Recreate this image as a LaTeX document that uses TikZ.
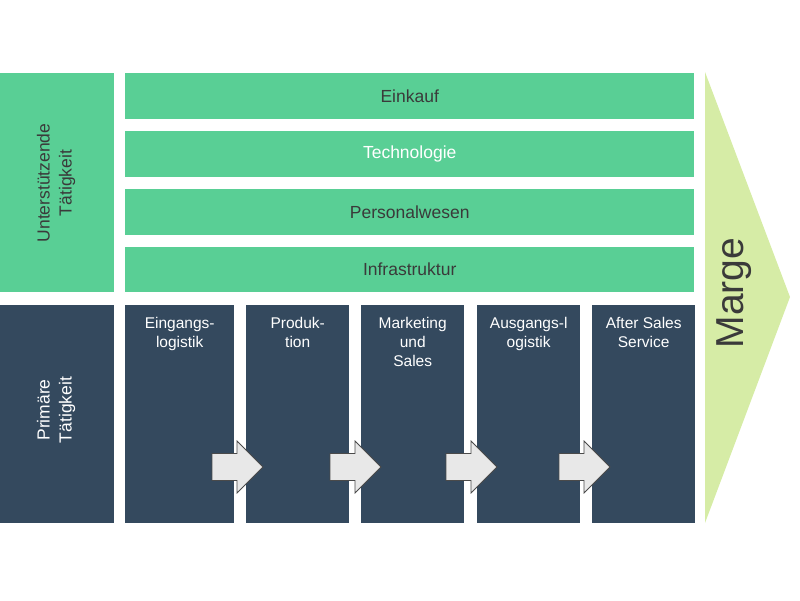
\documentclass[tikz,border=0pt]{standalone}
\usepackage{fontspec}
\setmainfont{Liberation Sans}
\definecolor{supgreen}{HTML}{59CF95}
\definecolor{prinavy}{HTML}{34495E}
\definecolor{margegreen}{HTML}{D6ECA6}
\definecolor{darktext}{HTML}{3A3A3A}
\definecolor{arrowfill}{HTML}{E8E8E8}
\definecolor{arrowline}{HTML}{4A4A4A}
\begin{document}
\begin{tikzpicture}[x=1pt,y=-1pt,
  strip/.style={fill=supgreen,draw=none,anchor=north west,inner sep=0pt,
    font=\fontsize{17.5}{20}\selectfont},
  pribox/.style={fill=prinavy,draw=none,anchor=north west,inner sep=0pt},
  pritext/.style={anchor=north,align=center,text=white,inner sep=0pt,
    font=\fontsize{15.5}{19}\selectfont},
  sidetext/.style={rotate=90,align=center,inner sep=0pt,
    font=\fontsize{17.5}{22}\selectfont},
  flowarrow/.pic={\draw[fill=arrowfill,draw=arrowline,line width=0.8pt,line join=miter]
    (0,-13.5) -- (25,-13.5) -- (25,-26) -- (51,0) -- (25,26) -- (25,13.5) -- (0,13.5) -- cycle;}
]
\useasboundingbox (0,0) rectangle (800,600);
% support side
\node[strip,minimum width=114pt,minimum height=219pt] (sup) at (0,73) {};
\node[sidetext,text=darktext] (suplabel) at (56,183) {Unterstützende\\Tätigkeit};
% strips
\node[strip,minimum width=569pt,minimum height=46pt,text=darktext] (einkauf) at (125,73) {Einkauf};
\node[strip,minimum width=569pt,minimum height=46pt,text=white] (tech) at (125,131) {Technologie};
\node[strip,minimum width=569pt,minimum height=46pt,text=darktext] (personal) at (125,189) {Personalwesen};
\node[strip,minimum width=569pt,minimum height=45pt,text=darktext] (infra) at (125,247) {Infrastruktur};
% primary side
\node[pribox,minimum width=114pt,minimum height=218pt] (pri) at (0,305) {};
\node[sidetext,text=white] (prilabel) at (56,410) {Primäre\\Tätigkeit};
% columns
\node[pribox,minimum width=109pt,minimum height=218pt] (c1) at (125,305) {};
\node[pribox,minimum width=103pt,minimum height=218pt] (c2) at (246,305) {};
\node[pribox,minimum width=103pt,minimum height=218pt] (c3) at (361,305) {};
\node[pribox,minimum width=103pt,minimum height=218pt] (c4) at (477,305) {};
\node[pribox,minimum width=103pt,minimum height=218pt] (c5) at (592,305) {};
\node[pritext] (t1) at (c1.north) [yshift=-12pt] {Eingangs-\\logistik};
\node[pritext] (t2) at (c2.north) [yshift=-12pt] {Produk-\\tion};
\node[pritext] (t3) at (c3.north) [yshift=-12pt] {Marketing\\und\\Sales};
\node[pritext] (t4) at (c4.north) [yshift=-12pt] {Ausgangs-l\\ogistik};
\node[pritext] (t5) at (c5.north) [yshift=-12pt] {After Sales\\Service};
% flow arrows
\pic at (212,467) {flowarrow};
\pic at (330,467) {flowarrow};
\pic at (446,467) {flowarrow};
\pic at (559,467) {flowarrow};
% marge
\fill[margegreen] (705,72) -- (790,297) -- (705,523) -- cycle;
\node[rotate=90,text=darktext,inner sep=0pt,font=\fontsize{39}{42}\selectfont] (marge) at (734,293) {Marge};
\end{tikzpicture}
\end{document}
